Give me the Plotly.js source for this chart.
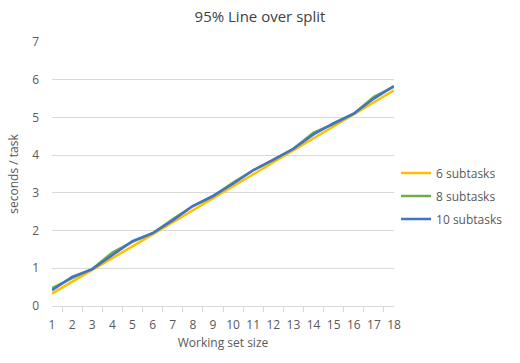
<!DOCTYPE html>
<html><head><meta charset="utf-8">
<script src="https://cdn.plot.ly/plotly-3.0.1.min.js"></script>
<style>html,body{margin:0;padding:0;background:#fff}#c{width:520px;height:363px}</style>
</head><body><div id="c"></div>
<script>
const categories = ["1","2","3","4","5","6","7","8","9","10","11","12","13","14","15","16","17","18"];
const sub6  = [0.33,0.65,0.96,1.27,1.58,1.9,2.22,2.54,2.85,3.16,3.48,3.8,4.13,4.45,4.76,5.08,5.41,5.72];
const sub8  = [0.47,0.74,0.98,1.42,1.7,1.93,2.3,2.65,2.9,3.27,3.6,3.87,4.17,4.6,4.82,5.1,5.55,5.82];
const sub10 = [0.42,0.77,0.98,1.35,1.72,1.93,2.27,2.65,2.92,3.24,3.6,3.88,4.17,4.55,4.85,5.1,5.5,5.83];
const seriesNames = ["6 subtasks","8 subtasks","10 subtasks"];
const colors = ["#FFC000","#70AD47","#4472C4"];
const yTicks = [0,1,2,3,4,5,6,7];

const data = [sub6, sub8, sub10].map((v,i)=>({
  x: categories, y: v, type:"scatter", mode:"lines", name: seriesNames[i],
  legendgroup: "g"+i,
  line:{color:colors[i], width:2.5}
}));
const font = {family:"'Open Sans', 'Liberation Sans', sans-serif", color:"#595959", size:12};
Plotly.newPlot("c", data, {
  width:520, height:363,
  margin:{l:52, r:112, t:42, b:57},
  paper_bgcolor:"#fff", plot_bgcolor:"#fff",
  font: font,
  title:{text:"95% Line over split", x:0.5, xanchor:"center", y:0.955, yanchor:"middle", font:{size:15, color:"#404040", family:font.family}},
  showlegend:true,
  legend:{x:1.006, xanchor:"left", y:0.417, yanchor:"middle", font:{size:12,color:"#595959"}, tracegroupgap:4},
  xaxis:{type:"category", tickvals:categories, ticktext:categories, tickangle:0, showgrid:false, showline:true, linecolor:"#d9d9d9", linewidth:1,
    ticks:"outside", ticklen:5, tickcolor:"#d9d9d9", tickson:"boundaries", zeroline:false, fixedrange:true,
    ticklabelstandoff:8,
    tickfont:{size:12,color:"#595959"},
    title:{text:"Working set size", standoff:6, font:{size:12,color:"#595959"}}},
  yaxis:{range:[0,7], tickvals:yTicks, showgrid:true, gridcolor:"#d9d9d9", gridwidth:1, zeroline:false, showline:false, ticks:"",
    ticklabelstandoff:12, tickfont:{size:12,color:"#595959"}, fixedrange:true,
    title:{text:"seconds / task", standoff:10, font:{size:12,color:"#595959"}}}
}, {staticPlot:true, displayModeBar:false});
</script></body></html>
